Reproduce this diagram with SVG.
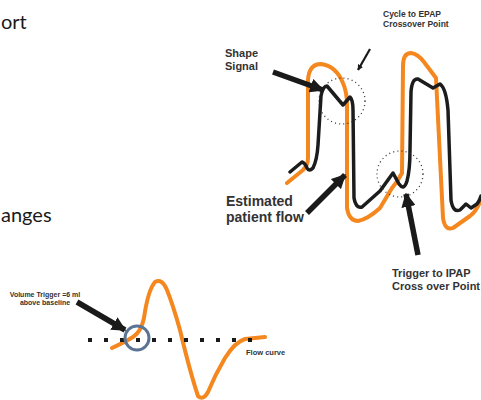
<svg xmlns="http://www.w3.org/2000/svg" width="481" height="400" viewBox="0 0 481 400">
<defs>
<style>
.title{font-family:Lato,"Open Sans","Liberation Sans",sans-serif;font-size:20px;fill:#1a1a1a}
.lbl{font-family:"Liberation Sans",Arial,sans-serif;font-weight:bold;fill:#333}
.orange{fill:none;stroke:#f5871f;stroke-width:4;stroke-linejoin:round;stroke-linecap:round}
.black{fill:none;stroke:#1c1c1c;stroke-width:3.5;stroke-linejoin:round;stroke-linecap:round}
.dotc{fill:none;stroke:#333;stroke-width:1.3;stroke-dasharray:1 3.2}
.arrow{fill:none;stroke:#1a1a1a;stroke-width:5.5;marker-end:url(#ah)}
.thin{fill:none;stroke:#1a1a1a;stroke-width:2.2;marker-end:url(#ah)}
</style>
<marker id="ah" viewBox="0 0 10 10" refX="9" refY="5" markerWidth="2.6" markerHeight="2.6" orient="auto" markerUnits="strokeWidth">
<path d="M0,0 L10,5 L0,10 z" fill="#1a1a1a"/>
</marker>
</defs>
<rect width="481" height="400" fill="#fff"/>

<g id="title-top"><text class="title" x="1" y="29">ort</text></g>
<g id="title-mid"><text class="title" x="1" y="222">anges</text></g>

<g id="waveform-top">
<path class="orange" d="M287,183 L303,170 Q308,165 308,158 L308,80 Q309,64 321,64 Q336,66 343,83 Q347,92 347,105 L347,208 Q349,221 358,221 Q368,219 380,208 L392,188 Q398,181 402,173 L403,66 Q403,53 411,53 Q418,54 424,62 L436,78 L443,218 Q445,231 453,228 L470,216 Q478,210 481,198"/>
<path class="black" d="M290,172 L302,162 Q305,163 307,168 Q309,172 313,168 Q317,160 318,145 L321,96 Q323,86 327,86 L343,105 L350,97 Q353,100 353,110 L354,198 Q356,209 362,207 L380,191 L393,173 L399,184 Q404,191 407,181 Q410,170 410,150 L411,92 Q412,78 418,79 L433,88 L440,84 Q446,88 448,110 L451,200 Q453,213 460,210 L466,204 L471,208 L477,204 Q480,200 481,196"/>
<circle class="dotc" cx="342" cy="101" r="23"/>
<circle class="dotc" cx="400" cy="174" r="23"/>
</g>

<g id="waveform-bottom">
<path class="orange" d="M112,348 Q125,342 133,337 Q141,332 144,318 Q148,290 155,282 Q162,278 167,290 Q173,305 180,330 Q190,372 198,396 Q203,401 208,392 Q215,375 225,358 Q235,342 245,339 L265,337"/>
<line x1="88" y1="340" x2="252" y2="340" stroke="#1a1a1a" stroke-width="4" stroke-dasharray="4 12"/>
<circle cx="137" cy="338" r="12" fill="none" stroke="#5b7494" stroke-width="3"/>
</g>

<g id="label-shape"><text class="lbl" font-size="11"><tspan x="225" y="57">Shape</tspan><tspan x="225" y="70">Signal</tspan></text></g>
<g id="label-cycle"><text class="lbl" font-size="8.5"><tspan x="383" y="17">Cycle to EPAP</tspan><tspan x="383" y="27">Crossover Point</tspan></text></g>
<g id="label-estimated"><text class="lbl" font-size="14"><tspan x="226" y="206">Estimated</tspan><tspan x="226" y="222">patient flow</tspan></text></g>
<g id="label-trigger"><text class="lbl" font-size="11"><tspan x="392" y="277">Trigger to IPAP</tspan><tspan x="392" y="290">Cross over Point</tspan></text></g>
<g id="label-volume"><text class="lbl" font-size="7" text-anchor="middle"><tspan x="45" y="297">Volume Trigger =6 ml</tspan><tspan x="45" y="305">above baseline</tspan></text></g>
<g id="label-flow"><text class="lbl" font-size="7.5" x="246" y="355">Flow curve</text></g>

<g id="connectors">
<line class="arrow" x1="273" y1="72" x2="323" y2="90"/>
<line class="thin" x1="370" y1="49" x2="358" y2="70"/>
<line class="arrow" x1="307" y1="213" x2="345" y2="175"/>
<line class="arrow" x1="418" y1="255" x2="406" y2="194"/>
<line class="arrow" x1="77" y1="302" x2="125" y2="330"/>
</g>
</svg>
